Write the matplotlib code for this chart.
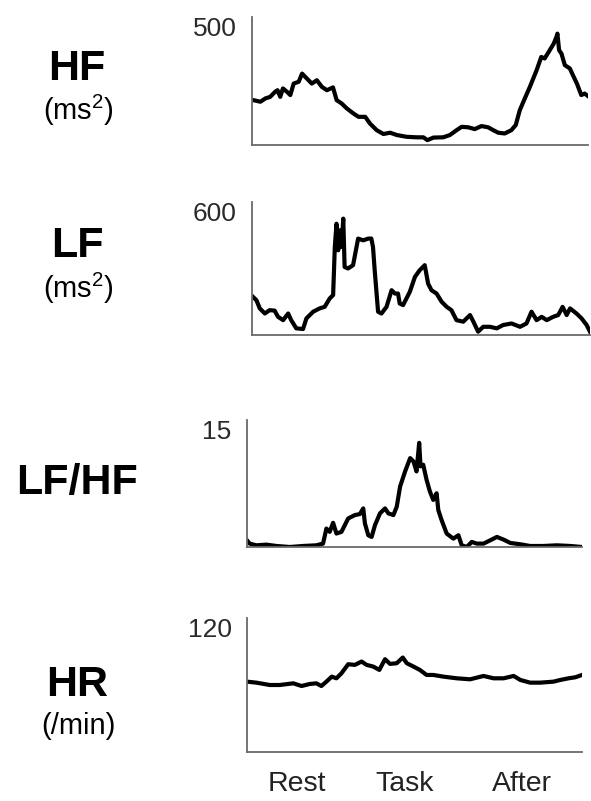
import matplotlib
matplotlib.use("Agg")
import matplotlib.pyplot as plt

plt.rcParams['font.family'] = ['Liberation Sans', 'DejaVu Sans']
plt.rcParams['mathtext.fontset'] = 'custom'
plt.rcParams['mathtext.rm'] = 'Liberation Sans'
plt.rcParams['mathtext.it'] = 'Liberation Sans'
plt.rcParams['mathtext.bf'] = 'Liberation Sans:bold'

# ---- data (time normalised 0-100 across the recording) ----
hf_t = [0.5, 2.5, 4.0, 5.4, 6.9, 7.6, 8.4, 9.2, 10.4, 11.4, 12.4, 13.9, 14.9, 16.3, 17.8, 19.3,
        20.8, 22.3, 24.1, 25.2, 26.7, 28.2, 30.2, 31.7, 33.7, 35.1, 37.1, 39.1, 41.1, 43.1, 46.0,
        49.0, 51.0, 52.2, 54.0, 56.9, 58.9, 60.9, 62.4, 64.4, 66.3, 68.3, 70.3, 71.8, 73.3, 75.2,
        77.2, 78.5, 79.7, 81.2, 82.7, 84.7, 86.1, 87.1, 88.6, 89.8, 90.6, 90.9, 91.4, 92.1, 93.1,
        94.6, 95.5, 96.7, 98.0, 99.0, 100]
hf_v = [175, 169, 182, 188, 208, 214, 188, 221, 208, 195, 240, 247, 279, 260, 240, 253,
        227, 214, 225, 175, 162, 143, 123, 110, 110, 84, 58, 43, 48, 39, 32,
        30, 30, 19, 29, 30, 39, 58, 71, 69, 62, 74, 69, 58, 48, 45,
        58, 78, 136, 182, 227, 292, 344, 338, 370, 396, 422, 435, 370, 357, 312,
        299, 273, 240, 195, 201, 191]

lf_t = [0.3, 1.3, 2.3, 3.8, 5.2, 6.7, 7.7, 9.2, 10.7, 11.6, 13.1, 15.1, 16.1, 18.1, 20.0, 21.5,
        23.0, 24.0, 24.5, 25.0, 25.5, 26.0, 26.5, 27.0, 27.4, 28.4, 29.9, 31.4, 32.9, 34.4, 35.3,
        35.8, 36.3, 37.3, 38.3, 39.8, 41.3, 42.3, 43.2, 43.7, 44.7, 46.7, 48.2, 49.6, 51.1, 52.1,
        53.1, 54.6, 56.1, 57.6, 59.0, 60.5, 62.5, 64.5, 65.5, 66.9, 68.4, 70.4, 72.4, 74.3, 76.8,
        79.3, 81.2, 82.7, 84.2, 85.7, 87.2, 89.1, 90.6, 91.9, 93.1, 94.1, 96.0, 97.5, 99.0, 100]
lf_v = [172, 157, 120, 97, 112, 110, 82, 67, 97, 67, 30, 27, 75, 105, 120, 127,
        165, 180, 397, 502, 382, 472, 397, 525, 307, 300, 315, 435, 427, 435, 435,
        397, 292, 105, 97, 127, 202, 187, 187, 142, 135, 195, 262, 292, 315, 232,
        202, 187, 150, 127, 112, 67, 60, 90, 60, 15, 37, 37, 30, 45, 52,
        37, 52, 105, 67, 82, 67, 82, 90, 127, 90, 120, 97, 75, 45, 15]

ratio_t = [0, 0.8, 2.8, 5.8, 8.8, 12.8, 16.7, 20.7, 22.7, 23.7, 24.7, 25.7, 26.7, 28.2, 30.2,
           32.2, 33.7, 34.7, 35.2, 36.2, 37.2, 38.2, 39.7, 41.2, 42.2, 43.7, 44.7, 45.7, 47.2,
           48.7, 49.7, 50.6, 51.4, 51.8, 52.6, 53.6, 54.6, 55.6, 56.6, 57.1, 58.1, 59.6, 61.6,
           63.1, 64.1, 65.6, 67.1, 68.6, 70.6, 72.6, 74.6, 76.6, 78.6, 81.6, 84.5, 88.5, 92.5,
           96.5, 100]
ratio_v = [0.79, 0.40, 0.20, 0.28, 0.12, 0.0, 0.12, 0.20, 0.40, 2.18, 1.79, 2.86, 1.59, 1.79, 3.37,
           3.77, 3.89, 4.56, 2.78, 1.39, 1.19, 2.58, 3.97, 4.56, 3.97, 3.77, 4.76, 7.14, 8.93,
           10.5, 10.1, 8.93, 12.3, 9.52, 9.72, 7.94, 6.55, 5.56, 6.35, 4.37, 3.17, 1.59, 0.99,
           1.39, 0.20, 0.0, 0.60, 0.40, 0.40, 0.79, 1.19, 0.87, 0.48, 0.32, 0.12, 0.12, 0.20,
           0.12, 0.0]

hr_t = [0, 2.8, 6.8, 9.8, 13.8, 16.3, 18.7, 20.7, 22.2, 23.7, 25.3, 26.7, 28.2, 30.2, 32.2,
        34.2, 35.7, 37.7, 39.5, 41.2, 42.7, 44.7, 46.5, 47.7, 49.7, 51.6, 53.6, 55.6, 58.6,
        62.6, 66.6, 68.6, 70.6, 73.6, 76.6, 79.6, 81.6, 84.5, 87.5, 91.5, 93.5, 96.0, 98.0, 100]
hr_v = [63.0, 62.1, 60.0, 60.0, 61.5, 59.1, 60.9, 61.5, 59.1, 63.0, 67.5, 66.0, 70.5, 78.6, 78.0,
        81.0, 78.0, 76.5, 73.5, 83.1, 78.9, 79.5, 84.6, 79.5, 76.5, 73.5, 69.0, 69.0, 67.5,
        66.0, 65.1, 66.6, 68.1, 66.0, 66.0, 68.1, 64.5, 62.1, 62.1, 63.0, 64.5, 66.0, 66.9, 69.0]

panel_titles = ["HF", "LF", "LF/HF", "HR"]
panel_units = [r"(ms$^{2}$)", r"(ms$^{2}$)", "", "(/min)"]
panel_tops = [500, 600, 15, 120]
phase_labels = ["Rest", "Task", "After"]
phase_pos = [14.9, 47.2, 82.1]

W, H = 591, 801
fig = plt.figure(figsize=(W / 100, H / 100), dpi=100)

# axes boxes in pixels: left, top, right, bottom
boxes = [(252, 17, 588, 145), (252, 202, 590, 335), (247, 420, 582, 547), (247, 618, 582, 752)]
series = [(hf_t, hf_v), (lf_t, lf_v), (ratio_t, ratio_v), (hr_t, hr_v)]

axes = []
for (l, t, r, b), (xs, ys), top in zip(boxes, series, panel_tops):
    ax = fig.add_axes([l / W, 1 - b / H, (r - l) / W, (b - t) / H])
    ax.plot(xs, ys, color='black', lw=3.0, solid_joinstyle='round')
    ax.set_xlim(0, 100)
    ax.set_ylim(0, top)
    for s in ['top', 'right']:
        ax.spines[s].set_visible(False)
    for s in ['left', 'bottom']:
        ax.spines[s].set_color('#6a6a6a')
        ax.spines[s].set_linewidth(1.3)
    ax.set_yticks([top])
    ax.set_yticklabels([str(top)], fontsize=19, color='#2a2a2a')
    for lab in ax.get_yticklabels():
        lab.set_verticalalignment('top')
    ax.tick_params(axis='y', length=0, pad=11)
    ax.set_xticks([])
    ax.patch.set_visible(False)
    axes.append(ax)

axes[-1].set_xticks(phase_pos)
axes[-1].set_xticklabels(phase_labels, fontsize=20.5, color='#222222')
axes[-1].tick_params(axis='x', length=0, pad=14)

# left labels
title_y = [69, 246, 483, 685]
unit_y = [110, 288, None, 726]
for name, unit, ty, uy in zip(panel_titles, panel_units, title_y, unit_y):
    fig.text(77 / W, 1 - ty / H, name, fontsize=31, fontweight='bold', ha='center', va='center')
    if unit:
        fig.text(78 / W, 1 - uy / H, unit, fontsize=21, ha='center', va='center')

fig.savefig('out.png', dpi=100)
